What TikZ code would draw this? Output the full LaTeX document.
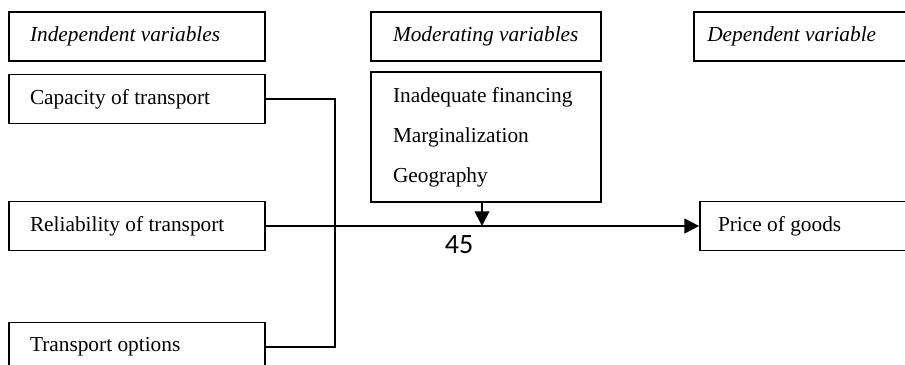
\documentclass[tikz,border=0pt]{standalone}
\usepackage{fontspec}
\setmainfont{Liberation Serif}
\newfontfamily\numfont{Carlito}
\usetikzlibrary{arrows.meta}
\tikzset{
  box/.style={draw, line width=1.3pt, align=flush left, inner ysep=0pt,
    minimum height=36.75pt, font=\fontsize{16}{19}\selectfont},
  leftbox/.style={box, inner xsep=15.75pt, text width=160.5pt},
  conn/.style={line width=1.4pt},
  tip/.style={-{Triangle[length=11pt,width=11pt]}}
}
\begin{document}
\begin{tikzpicture}[x=0.75pt,y=-0.75pt]
\useasboundingbox (0,0) rectangle (905,364);
\clip (0,0) rectangle (905,364);
% headers
\node[leftbox, font=\fontsize{16}{19}\selectfont\itshape] (hind) at (137,36.5) {Independent variables};
\node[box, inner xsep=8.25pt, text width=156pt, font=\fontsize{16}{19}\selectfont\itshape] (hmod) at (486,36.5) {\hspace*{8.25pt}Moderating variables};
\node[box, inner xsep=10pt, text width=152.5pt, font=\fontsize{16}{19}\selectfont\itshape] (hdep) at (809,36.5) {Dependent variable};
% independent
\node[leftbox] (cap) at (137,99) {Capacity of transport};
\node[leftbox] (rel) at (137,226) {Reliability of transport};
\node[leftbox] (opt) at (137,347) {Transport options};
% moderating
\node[box, inner xsep=16.5pt, text width=139.5pt, minimum height=97.5pt,
  font=\fontsize{16}{30}\selectfont] (mod) at (486,137)
  {Inadequate financing\\Marginalization\\Geography};
% dependent
\node[box, inner xsep=13.5pt, text width=145.5pt] (price) at (815,226) {Price of goods};
% connectors
\coordinate (j) at (335,0);
\coordinate (a) at (482,226);
\draw[conn] (cap.east) -- (cap.east -| j) -- (opt.east -| j) -- (opt.east);
\draw[conn, tip] (rel.east) -- (price.west);
\draw[conn, tip] (mod.south -| a) -- (a);
\node[font=\numfont\fontsize{21}{24}\selectfont, inner sep=0pt] (num) at (459,245) {45};
\end{tikzpicture}
\end{document}
